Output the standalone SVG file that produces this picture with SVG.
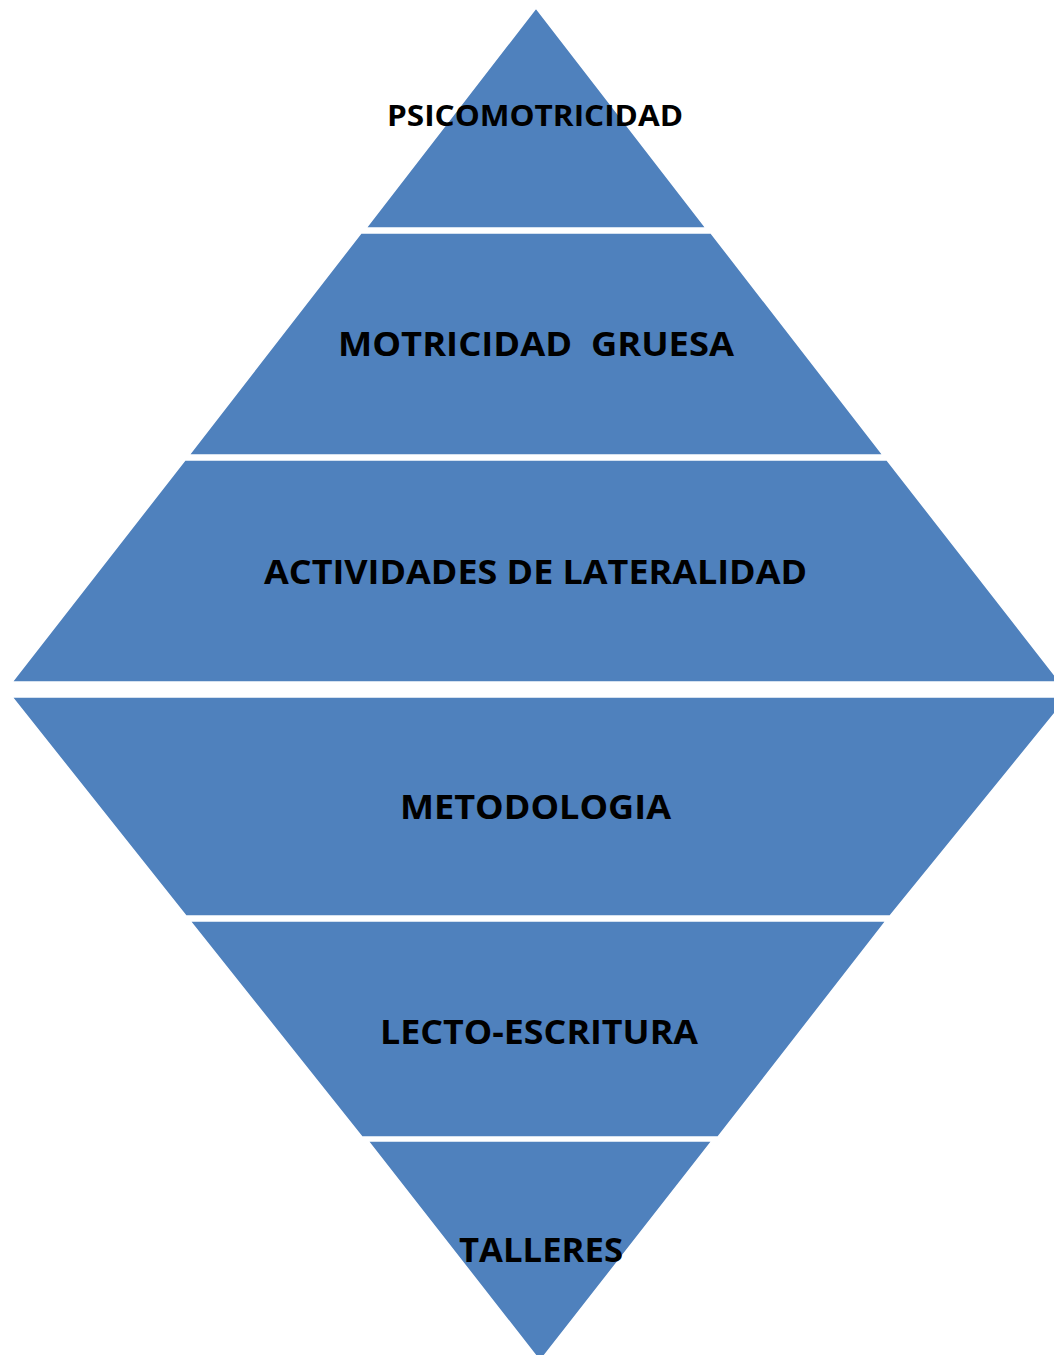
<svg xmlns="http://www.w3.org/2000/svg" width="1054" height="1355" viewBox="0 0 1054 1355">
<style>
.band{fill:#4F81BD;stroke:#FFFFFF;stroke-width:1.5}
.lbl{font-family:"Open Sans","Liberation Sans",sans-serif;font-weight:bold;fill:#000000;text-anchor:middle}
.big{font-size:34px}
.small{font-size:28px}
</style>
<rect x="0" y="0" width="1054" height="1355" fill="#FFFFFF"/>
<g id="psicomotricidad">
<polygon class="band" points="536,8 706,228 366,228"/>
<text class="lbl small" x="535" y="126" textLength="296" lengthAdjust="spacingAndGlyphs">PSICOMOTRICIDAD</text>
</g>
<g id="motricidad-gruesa">
<polygon class="band" points="361,233 711,233 883,455 189,455"/>
<text class="lbl big" x="536" y="356" textLength="396" lengthAdjust="spacingAndGlyphs" xml:space="preserve">MOTRICIDAD  GRUESA</text>
</g>
<g id="actividades-lateralidad">
<polygon class="band" points="185,460 887,460 1060,682 12,682"/>
<text class="lbl big" x="535.5" y="584" textLength="543" lengthAdjust="spacingAndGlyphs">ACTIVIDADES DE LATERALIDAD</text>
</g>
<g id="metodologia">
<polygon class="band" points="12,697 1068,697 890,916 186,916"/>
<text class="lbl big" x="535.5" y="819" textLength="271" lengthAdjust="spacingAndGlyphs">METODOLOGIA</text>
</g>
<g id="lecto-escritura">
<polygon class="band" points="190,921 886,921 718,1137 362,1137"/>
<text class="lbl big" x="539" y="1044" textLength="318" lengthAdjust="spacingAndGlyphs">LECTO-ESCRITURA</text>
</g>
<g id="talleres">
<polygon class="band" points="368,1141 712,1141 540,1361"/>
<text class="lbl big" x="541" y="1262" textLength="164" lengthAdjust="spacingAndGlyphs">TALLERES</text>
</g>
<g id="connectors"></g>
</svg>
